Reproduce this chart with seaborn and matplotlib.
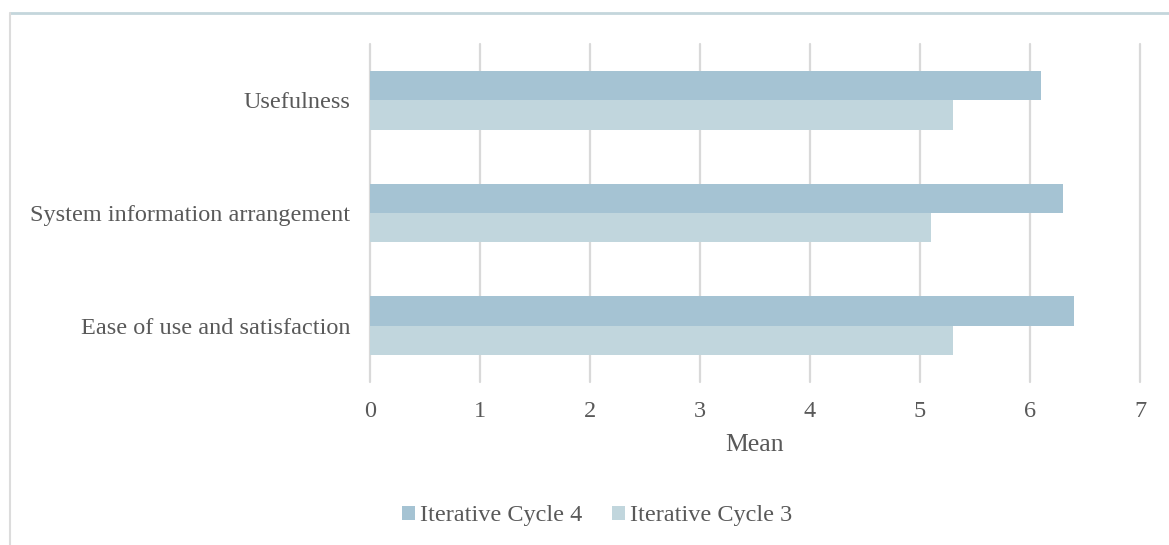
import matplotlib
matplotlib.use("Agg")
import matplotlib.pyplot as plt
from matplotlib.lines import Line2D
from matplotlib.patches import Patch
import seaborn as sns
import pandas as pd

categories = ["Usefulness", "System information arrangement", "Ease of use and satisfaction"]
series_names = ["Iterative Cycle 4", "Iterative Cycle 3"]
cycle4_means = [6.1, 6.3, 6.4]
cycle3_means = [5.3, 5.1, 5.3]
x_ticks = [0, 1, 2, 3, 4, 5, 6, 7]
colors = ["#a5c3d3", "#c1d6dd"]

df = pd.DataFrame({
    "Category": categories * 2,
    "Series": [series_names[0]] * 3 + [series_names[1]] * 3,
    "Mean": cycle4_means + cycle3_means,
})

sns.set_theme(style="white")
plt.rcParams["font.family"] = ["Liberation Serif", "DejaVu Serif"]
text_color = "#595959"

W, H = 1169, 545
fig = plt.figure(figsize=(W / 100, H / 100), dpi=100)
ax = fig.add_axes([370 / W, 1 - 382 / H, (1140 - 370) / W, (382 - 44) / H])

sns.barplot(data=df, y="Category", x="Mean", hue="Series", order=categories,
            hue_order=series_names, palette=colors, orient="h", width=0.52,
            gap=0, saturation=1, ax=ax, legend=False, linewidth=0)

ax.set_xlim(0, 7)
ax.set_ylim(2.5, -0.5)
ax.set_xticks(x_ticks)
ax.set_xticklabels([str(t) for t in x_ticks])
ax.xaxis.grid(True, color="#d9d9d9", linewidth=1.6)
for gl in ax.get_xgridlines():
    gl.set_clip_on(False)
ax.set_axisbelow(True)
for s in ax.spines.values():
    s.set_visible(False)
ax.tick_params(axis="both", length=0, labelsize=17.5, colors=text_color)
ax.tick_params(axis="x", pad=14)
ax.tick_params(axis="y", pad=14)
ax.set_ylabel("")
ax.set_xlabel("Mean", fontsize=18.5, color=text_color, labelpad=8)

handles = [Patch(facecolor=c, edgecolor="none") for c in colors]
fig.legend(handles, series_names, loc="center", bbox_to_anchor=(597 / W, 1 - 516 / H),
           ncol=2, frameon=False, fontsize=17.5, labelcolor=text_color,
           handlelength=0.55, handleheight=0.55, handletextpad=0.2, columnspacing=1.2)

# chart area frame
fig.add_artist(Line2D([10 / W, 1], [1 - 13 / H, 1 - 13 / H], color="#c4d6dc", linewidth=2.0,
                      transform=fig.transFigure))
fig.add_artist(Line2D([10 / W, 10 / W], [0, 1 - 13 / H], color="#dcdcdc", linewidth=1.5,
                      transform=fig.transFigure))

fig.savefig("out.png", dpi=100)
